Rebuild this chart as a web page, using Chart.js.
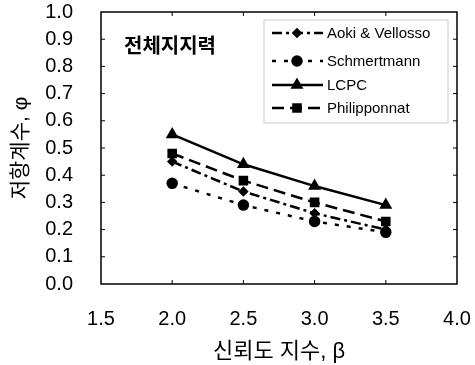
<!DOCTYPE html>
<html>
<head>
<meta charset="utf-8">
<script src="https://cdn.jsdelivr.net/npm/chart.js@4"></script>
<style>
  html, body { margin: 0; padding: 0; background: #fff; }
  #wrap { width: 475px; height: 365px; }
</style>
</head>
<body>
<div id="wrap"><canvas id="chart" width="475" height="365"></canvas></div>
<script>
// values
const betaValues = [2.0, 2.5, 3.0, 3.5];
const aokiVellosso = [0.45, 0.34, 0.26, 0.20];
const schmertmann = [0.37, 0.29, 0.23, 0.19];
const lcpc = [0.55, 0.44, 0.36, 0.29];
const philipponnat = [0.48, 0.38, 0.30, 0.23];
const seriesNames = ['Aoki & Vellosso', 'Schmertmann', 'LCPC', 'Philipponnat'];
const xTicks = [1.5, 2.0, 2.5, 3.0, 3.5, 4.0];
const yTicks = [0.0, 0.1, 0.2, 0.3, 0.4, 0.5, 0.6, 0.7, 0.8, 0.9, 1.0];
const chartTitle = '전체지지력';
const xTitle = '신뢰도 지수, β';
const yTitle = '저항계수, φ';

const FONT = "'Liberation Sans', 'Noto Sans CJK KR', sans-serif";

function toPoints(values) {
    return betaValues.map((b, i) => ({ x: b, y: values[i] }));
}

// frame with inward ticks, the in-plot label and the boxed legend
const decorations = {
    id: 'decorations',
    afterDraw(chart) {
        const { ctx, chartArea: a, scales } = chart;
        ctx.save();
        ctx.strokeStyle = '#000';
        ctx.lineWidth = 1.5;
        ctx.strokeRect(a.left, a.top, a.right - a.left, a.bottom - a.top);

        // small inward tick marks
        ctx.lineWidth = 1;
        xTicks.slice(1, -1).forEach(v => {
            const x = scales.x.getPixelForValue(v);
            ctx.beginPath();
            ctx.moveTo(x, a.bottom); ctx.lineTo(x, a.bottom - 4);
            ctx.moveTo(x, a.top); ctx.lineTo(x, a.top + 4);
            ctx.stroke();
        });
        yTicks.slice(1, -1).forEach(v => {
            const y = scales.y.getPixelForValue(v);
            ctx.beginPath();
            ctx.moveTo(a.left, y); ctx.lineTo(a.left + 4, y);
            ctx.moveTo(a.right, y); ctx.lineTo(a.right - 4, y);
            ctx.stroke();
        });

        // label inside the plot
        ctx.fillStyle = '#000';
        ctx.font = "bold 20px 'Noto Sans CJK KR', sans-serif";
        ctx.textAlign = 'left';
        ctx.textBaseline = 'middle';
        ctx.fillText(chartTitle, a.left + 23, 45);

        // legend box
        const boxL = 264, boxT = 20, boxR = 448, boxB = 123;
        ctx.strokeStyle = '#bbb';
        ctx.lineWidth = 0.8;
        ctx.strokeRect(boxL, boxT, boxR - boxL, boxB - boxT);

        const rows = [33, 61, 85, 108];
        ctx.font = '15px ' + FONT;
        chart.data.datasets.forEach((ds, i) => {
            const y = rows[i];
            ctx.strokeStyle = '#000';
            ctx.lineWidth = ds.borderWidth;
            ctx.setLineDash(ds.borderDash || []);
            ctx.beginPath();
            ctx.moveTo(272, y); ctx.lineTo(323, y);
            ctx.stroke();
            ctx.setLineDash([]);
            ctx.fillStyle = '#000';
            Chart.helpers.drawPoint(ctx, {
                pointStyle: ds.pointStyle,
                radius: ds.pointRadius,
                rotation: 0,
                borderWidth: 1
            }, 297, y);
            ctx.fillStyle = '#000';
            ctx.fillText(ds.label, 327, y + 1);
        });
        ctx.restore();
    }
};

const common = {
    borderColor: '#000',
    backgroundColor: '#000',
    pointBackgroundColor: '#000',
    pointBorderColor: '#000',
    borderWidth: 2.5,
    fill: false,
    tension: 0
};

new Chart(document.getElementById('chart'), {
    type: 'line',
    data: {
        datasets: [
            { ...common, label: seriesNames[0], data: toPoints(aokiVellosso),
              borderDash: [10, 4, 3, 4], pointStyle: 'rectRot', pointRadius: 3.5 },
            { ...common, label: seriesNames[1], data: toPoints(schmertmann),
              borderDash: [4, 8], pointStyle: 'circle', pointRadius: 4.5 },
            { ...common, label: seriesNames[2], data: toPoints(lcpc),
              borderDash: [], pointStyle: 'triangle', pointRadius: 5 },
            { ...common, label: seriesNames[3], data: toPoints(philipponnat),
              borderDash: [12, 6], pointStyle: 'rect', pointRadius: 5 }
        ]
    },
    options: {
        responsive: false,
        animation: false,
        layout: { padding: { left: 0, right: 18, top: 12, bottom: 0 } },
        plugins: {
            legend: { display: false },
            tooltip: { enabled: false }
        },
        scales: {
            x: {
                type: 'linear',
                min: 1.5,
                max: 4.0,
                afterFit: s => {
                    s.height = 81;
                    s.paddingLeft = 0;
                    s.paddingRight = 0;
                },
                afterBuildTicks: s => { s.ticks = xTicks.map(v => ({ value: v })); },
                grid: { display: false },
                border: { display: false },
                ticks: {
                    autoSkip: false,
                    maxRotation: 0,
                    padding: 15,
                    color: '#000',
                    font: { family: FONT, size: 20 },
                    callback: v => Number(v).toFixed(1)
                },
                title: {
                    display: true,
                    text: xTitle,
                    color: '#000',
                    font: { family: FONT, size: 22 },
                    padding: { top: 0, bottom: 0 }
                }
            },
            y: {
                min: 0,
                max: 1,
                afterFit: s => {
                    s.width = 101;
                    s.paddingTop = 0;
                    s.paddingBottom = 0;
                },
                afterBuildTicks: s => { s.ticks = yTicks.map(v => ({ value: v })); },
                grid: { display: false },
                border: { display: false },
                ticks: {
                    autoSkip: false,
                    padding: 20,
                    color: '#000',
                    font: { family: FONT, size: 20 },
                    callback: v => Number(v).toFixed(1)
                },
                title: {
                    display: true,
                    text: yTitle,
                    color: '#000',
                    font: { family: FONT, size: 21 },
                    padding: { top: 9, bottom: 0 }
                }
            }
        }
    },
    plugins: [decorations]
});
</script>
</body>
</html>
